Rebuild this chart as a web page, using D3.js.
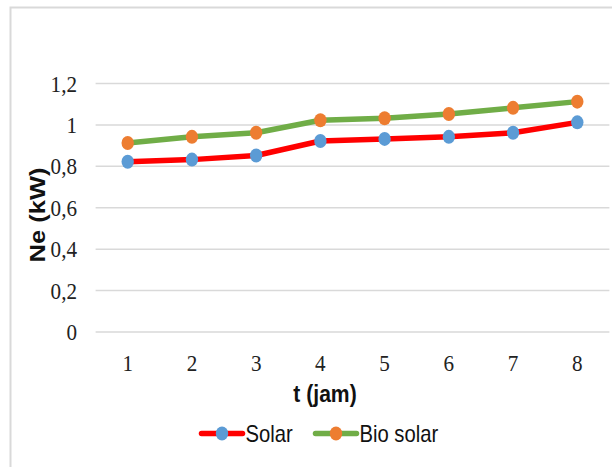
<!DOCTYPE html>
<html>
<head>
<meta charset="utf-8">
<script src="https://cdn.jsdelivr.net/npm/d3@7"></script>
<style>
  html, body { margin: 0; padding: 0; background: #fff; }
  svg { display: block; }
</style>
</head>
<body>
<svg id="chart" width="612" height="467"></svg>
<script>
// Hours on the x axis
const hours = [1, 2, 3, 4, 5, 6, 7, 8];
// Effective power (kW) for each fuel
const solar = [0.82, 0.83, 0.85, 0.92, 0.93, 0.94, 0.96, 1.01];
const bioSolar = [0.91, 0.94, 0.96, 1.02, 1.03, 1.05, 1.08, 1.11];
// Y axis ticks and their printed labels
const yTicks = [0, 0.2, 0.4, 0.6, 0.8, 1, 1.2];
const yTickLabels = ["0", "0,2", "0,4", "0,6", "0,8", "1", "1,2"];
const seriesNames = ["Solar", "Bio solar"];

const series = [
  { name: seriesNames[0], values: solar, line: "#ff0000", dot: "#5b9bd5" },
  { name: seriesNames[1], values: bioSolar, line: "#70ad47", dot: "#ed7d31" }
];

const SERIF = "'Liberation Serif', 'Times New Roman', serif";
const SANS = "'Liberation Sans', Arial, sans-serif";
const SQUEEZE = 0.88; // narrow horizontal text width

const svg = d3.select("#chart");
const plot = { left: 95.6, right: 609.4, top: 83, bottom: 331.5 };

// Chart area frame
svg.append("path")
  .attr("d", `M10.5,470 V7.5 H620`)
  .attr("fill", "none")
  .attr("stroke", "#d9d9d9")
  .attr("stroke-width", 2);

const x = d3.scaleBand().domain(hours).range([plot.left, plot.right]);
const y = d3.scaleLinear().domain([0, 1.2]).range([plot.bottom, plot.top]);

// Horizontal gridlines
const yAxis = d3.axisLeft(y)
  .tickValues(yTicks)
  .tickSize(-(plot.right - plot.left))
  .tickFormat("");
const gy = svg.append("g")
  .attr("transform", `translate(${plot.left},0)`)
  .call(yAxis);
gy.select(".domain").remove();
gy.selectAll(".tick line").attr("stroke", "#d9d9d9").attr("stroke-width", 1.5);

// Value labels, right-aligned beside the gridlines
svg.append("g").selectAll("text")
  .data(yTicks)
  .join("text")
  .attr("transform", d => `translate(77,${y(d) + 8.5}) scale(${SQUEEZE},1)`)
  .attr("text-anchor", "end")
  .attr("font-family", SERIF)
  .attr("font-size", 24)
  .attr("fill", "#222")
  .text((d, i) => yTickLabels[i]);

const cx = d => x(d) + x.bandwidth() / 2;

// Category labels along the bottom
svg.append("g").selectAll("text")
  .data(hours)
  .join("text")
  .attr("transform", d => `translate(${cx(d)},370.5) scale(${SQUEEZE},1)`)
  .attr("text-anchor", "middle")
  .attr("font-family", SERIF)
  .attr("font-size", 24)
  .attr("fill", "#222")
  .text(d => d);

// Lines and markers
series.forEach(s => {
  const line = d3.line()
    .x((d, i) => cx(hours[i]))
    .y(d => y(d));
  svg.append("path")
    .datum(s.values)
    .attr("d", line)
    .attr("fill", "none")
    .attr("stroke", s.line)
    .attr("stroke-width", 5.5)
    .attr("stroke-linejoin", "round");
});
series.forEach(s => {
  svg.append("g").selectAll("ellipse")
    .data(s.values)
    .join("ellipse")
    .attr("cx", (d, i) => cx(hours[i]))
    .attr("cy", d => y(d))
    .attr("rx", 6.2)
    .attr("ry", 7)
    .attr("fill", s.dot);
});

// Axis titles
svg.append("text")
  .attr("transform", `translate(325,402) scale(${SQUEEZE},1)`)
  .attr("text-anchor", "middle")
  .attr("font-family", SANS)
  .attr("font-weight", "bold")
  .attr("font-size", 24)
  .attr("fill", "#111")
  .text("t (jam)");

svg.append("text")
  .attr("transform", `translate(44.5,215) scale(${SQUEEZE},1) rotate(-90)`)
  .attr("text-anchor", "middle")
  .attr("font-family", SANS)
  .attr("font-weight", "bold")
  .attr("font-size", 25.5)
  .attr("fill", "#111")
  .text("Ne (kW)");

// Legend
const legendX = [200, 314];
series.forEach((s, i) => {
  const g = svg.append("g").attr("transform", `translate(${legendX[i]},433.5)`);
  g.append("line")
    .attr("x1", 1.5).attr("x2", 42.5)
    .attr("stroke", s.line)
    .attr("stroke-width", 5.5)
    .attr("stroke-linecap", "round");
  g.append("ellipse")
    .attr("cx", 22).attr("rx", 6.2).attr("ry", 7)
    .attr("fill", s.dot);
  g.append("text")
    .attr("transform", `translate(45.5,8) scale(${SQUEEZE},1)`)
    .attr("font-family", SANS)
    .attr("font-size", 23)
    .attr("fill", "#111")
    .text(s.name);
});
</script>
</body>
</html>
